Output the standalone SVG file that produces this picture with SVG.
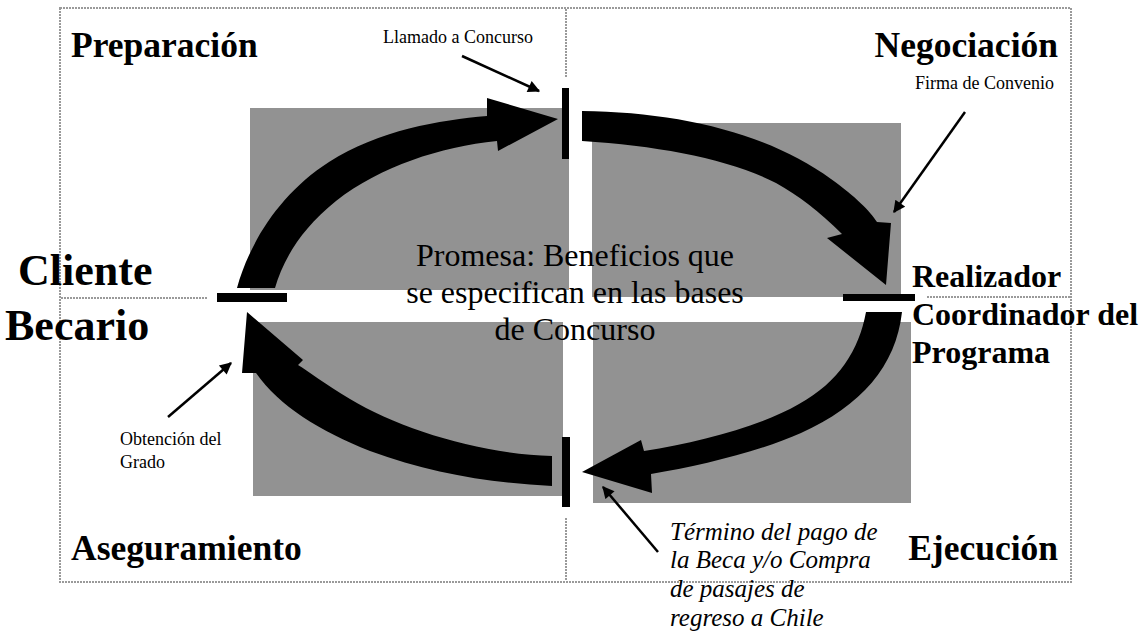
<svg xmlns="http://www.w3.org/2000/svg" width="1147" height="632" viewBox="0 0 1147 632">
<defs>
<style>
.dot{fill:none;stroke:#9a9a9a;stroke-width:2;stroke-dasharray:2 1}
.box{fill:#929292}
.bar{fill:#000}
.blk{fill:#000}
.ptr{fill:none;stroke:#000;stroke-width:2.5}
.t{font-family:"Liberation Serif","Times New Roman",serif;fill:#000}
.h{font-weight:bold}
</style>
<marker id="ah2" viewBox="0 0 10 10" refX="9" refY="5" markerWidth="14" markerHeight="12" orient="auto" markerUnits="userSpaceOnUse">
<path d="M0,0 L10,5 L0,10 z" fill="#000"/>
</marker>
</defs>
<g id="frame">
<rect class="dot" x="60" y="8" width="1011" height="574"/>
<line class="dot" x1="566" y1="9" x2="566" y2="78"/>
<line class="dot" x1="566" y1="518" x2="566" y2="581"/>
<line class="dot" x1="61" y1="298" x2="208" y2="298"/>
<line class="dot" x1="927" y1="297" x2="1070" y2="297"/>
</g>
<g id="boxes">
<rect class="box" x="250" y="108" width="319" height="182"/>
<rect class="box" x="592" y="123" width="309" height="174"/>
<rect class="box" x="253" y="322" width="310" height="174"/>
<rect class="box" x="593" y="322" width="318" height="181"/>
</g>
<g id="connectors">
<path class="blk" d="M237,288 C249,244 279,194 329,162 C379,130 440,120 487,116 L487,98 L558,119 L498,151 L497,141 C440,147 381,166 336,201 C301,229 283,260 275,288 Z"/>
<path class="blk" d="M582,111 C680,112 770,134 831,179 C856,197 870,211 877,222 L891,223 L886,285 L827,238 L842,234 C819,211 799,196 776,183 C729,159 660,146 582,141 Z"/>
<path class="blk" d="M902,312 C896,366 861,406 801,433 C761,451 700,466 651,474 L652,493 L582,472 L641,440 L644,451 C699,442 759,427 799,404 C839,382 859,350 866,312 Z"/>
<path class="blk" d="M552,456 C480,454 400,429 350,399 C325,384 308,371 298,365 L303,360 L247,312 L242,373 L256,373 C279,406 320,431 370,451 C430,473 490,483 552,486 Z"/>
<line class="ptr" x1="462" y1="56" x2="539" y2="91" marker-end="url(#ah2)"/>
<line class="ptr" x1="965" y1="112" x2="894" y2="212" marker-end="url(#ah2)"/>
<line class="ptr" x1="168" y1="417" x2="231" y2="363" marker-end="url(#ah2)"/>
<line class="ptr" x1="658" y1="552" x2="603" y2="487" marker-end="url(#ah2)"/>
</g>
<g id="bars">
<rect class="bar" x="562" y="88" width="7" height="71"/>
<rect class="bar" x="217" y="293" width="70" height="9"/>
<rect class="bar" x="843" y="294" width="72" height="7"/>
<rect class="bar" x="562" y="437" width="8" height="70"/>
</g>
<g id="labels">
<text class="t h" x="71" y="57" font-size="35.5">Preparación</text>
<text class="t h" x="1058" y="57" font-size="35.5" text-anchor="end">Negociación</text>
<text class="t h" x="71" y="560" font-size="35.5">Aseguramiento</text>
<text class="t h" x="1058" y="560" font-size="35.5" text-anchor="end">Ejecución</text>
<text class="t h" x="18" y="285" font-size="44">Cliente</text>
<text class="t h" x="5" y="340" font-size="44">Becario</text>
<text class="t h" x="912" y="287" font-size="32">Realizador</text>
<text class="t h" x="912" y="325" font-size="32">Coordinador del</text>
<text class="t h" x="912" y="363" font-size="32">Programa</text>
<text class="t" x="575" y="266" font-size="32" text-anchor="middle">Promesa: Beneficios que</text>
<text class="t" x="575" y="303" font-size="32" text-anchor="middle">se especifican en las bases</text>
<text class="t" x="575" y="340" font-size="32" text-anchor="middle">de Concurso</text>
<text class="t" x="383" y="43" font-size="18">Llamado a Concurso</text>
<text class="t" x="915" y="89" font-size="18">Firma de Convenio</text>
<text class="t" x="120" y="445" font-size="18">Obtención del</text>
<text class="t" x="120" y="468" font-size="18">Grado</text>
<text class="t" x="670" y="540" font-size="25" font-style="italic">Término del pago de</text>
<text class="t" x="670" y="568" font-size="25" font-style="italic">la Beca y/o Compra</text>
<text class="t" x="670" y="597" font-size="25" font-style="italic">de pasajes de</text>
<text class="t" x="670" y="626" font-size="25" font-style="italic">regreso a Chile</text>
</g>
</svg>
